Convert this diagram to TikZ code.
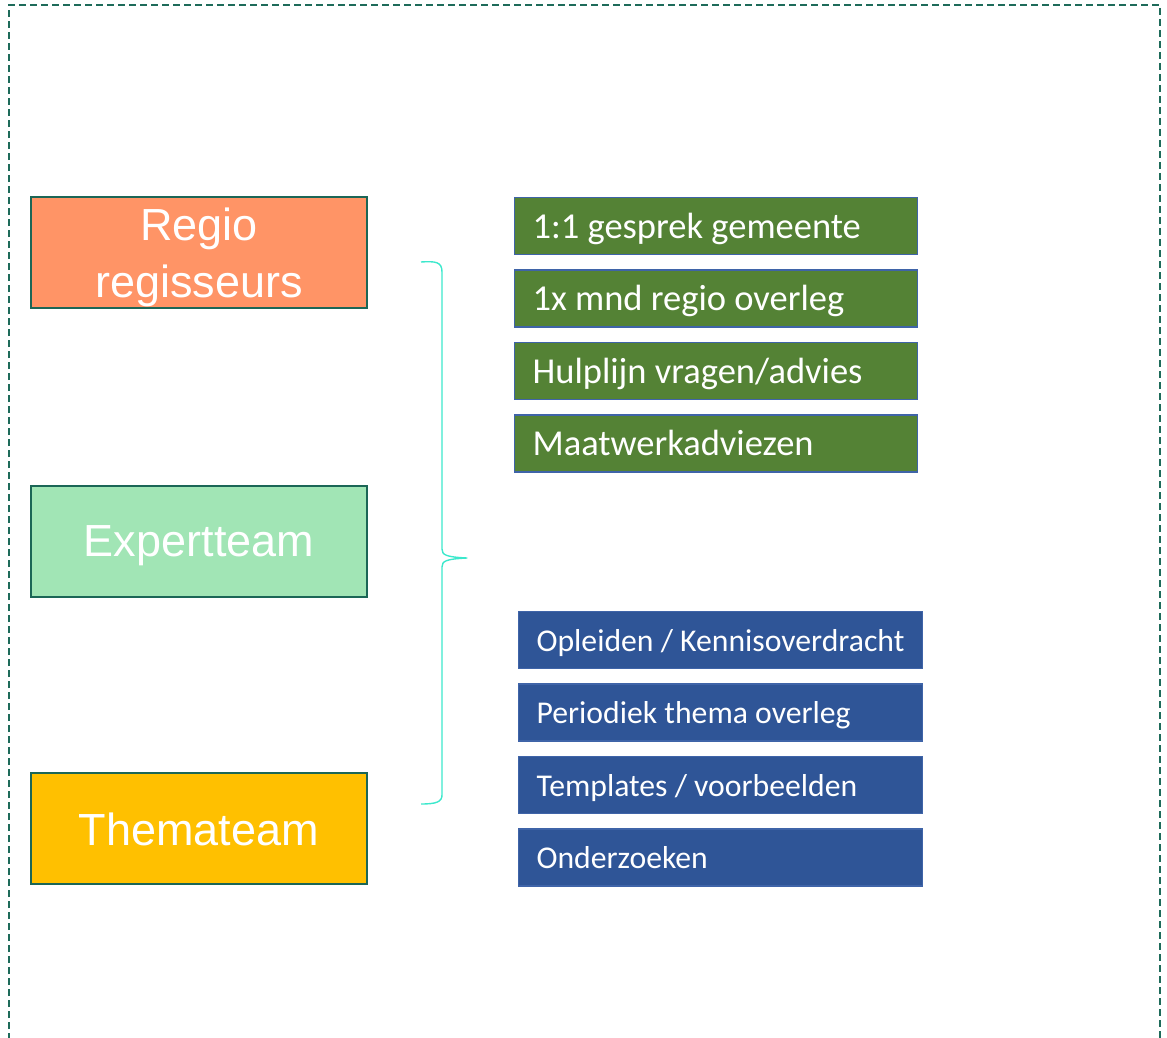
\documentclass[tikz,border=0pt]{standalone}
\usepackage{fontspec}
\setmainfont{Liberation Sans}
\newfontfamily\itemfont{Carlito}
\begin{document}
\begin{tikzpicture}[x=1pt,y=-1pt,
  team/.style={draw=teamborder,line width=2pt,minimum width=336pt,minimum height=111pt,inner sep=0pt,text=white,font=\fontsize{45}{57}\selectfont,align=center},
  item/.style={draw=itemborder,line width=1.2pt,minimum height=57pt,inner xsep=18pt,inner ysep=0pt,text=white,align=flush left,anchor=west},
  gitem/.style={item,fill=itemgreen,text width=367pt,text height=30pt,text depth=6pt,font=\itemfont\fontsize{36.5}{40}\selectfont},
  bitem/.style={item,fill=itemblue,text width=368pt,text height=28pt,text depth=6pt,font=\itemfont\fontsize{31.7}{38}\selectfont}]
\definecolor{teamborder}{HTML}{1B6656}
\definecolor{frame}{HTML}{1E6B5A}
\definecolor{orangef}{HTML}{FF9466}
\definecolor{greenf}{HTML}{A1E5B5}
\definecolor{yellowf}{HTML}{FFC000}
\definecolor{itemgreen}{HTML}{548235}
\definecolor{itemblue}{HTML}{2F5597}
\definecolor{itemborder}{HTML}{3F64A8}
\definecolor{bracec}{HTML}{3CE8CC}
\useasboundingbox (0,0) rectangle (1167,1038);
% frame open at the bottom
\coordinate (fbl) at (9,1040);
\coordinate (ftl) at (9,5);
\coordinate (ftr) at (1160,5);
\coordinate (fbr) at (1160,1040);
\draw[frame,line width=1.6pt,dash pattern=on 7pt off 4pt] (fbl) -- (ftl) -- (ftr) -- (fbr);
% teams
\node[team,fill=orangef,text height=93pt,text depth=4pt] (regio) at (199,252.5) {Regio\\regisseurs};
\node[team,fill=greenf,text height=35pt,text depth=4pt] (expert) at (199,541) {Expertteam};
\node[team,fill=yellowf,text height=37pt,text depth=4pt] (thema) at (199,828.5) {Themateam};
% green items
\node[gitem] (g1) at (514,226) {1:1 gesprek gemeente};
\node[gitem] (g2) at (514,298.5) {1x mnd regio overleg};
\node[gitem] (g3) at (514,371) {Hulplijn vragen/advies};
\node[gitem] (g4) at (514,443.5) {Maatwerkadviezen};
% blue items
\node[bitem] (b1) at (518,640) {Opleiden / Kennisoverdracht};
\node[bitem] (b2) at (518,712.5) {Periodiek thema overleg};
\node[bitem] (b3) at (518,785) {Templates / voorbeelden};
\node[bitem] (b4) at (518,857.5) {Onderzoeken};
% brace
\coordinate (btop) at (421,262);
\coordinate (bbot) at (421,804);
\coordinate (btip) at (467,558);
\draw[bracec,line width=1.4pt,line join=round]
  (btop) .. controls (436,261) and (442,262) .. (442,272)
  -- (442,549) .. controls (442,555) and (446,557) .. (btip)
  .. controls (446,559) and (442,561) .. (442,567)
  -- (442,795) .. controls (442,802) and (436,804) .. (bbot);
\end{tikzpicture}
\end{document}
